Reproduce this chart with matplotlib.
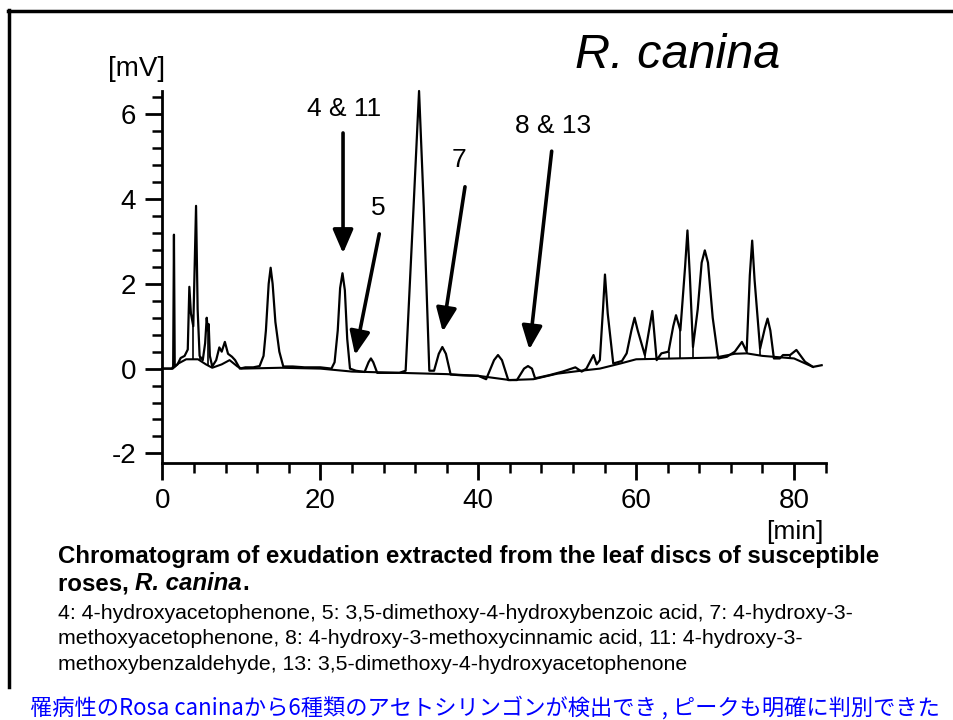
import numpy as np
import matplotlib
matplotlib.use('Agg')
import matplotlib.pyplot as plt
from matplotlib.ticker import MultipleLocator
from matplotlib.lines import Line2D

plt.rcParams['font.family'] = ['Liberation Sans', 'Noto Sans CJK JP', 'DejaVu Sans']
plt.rcParams['axes.unicode_minus'] = False

# chromatogram trace: retention time [min], signal [mV]
trace_t = [0.0, 1.2, 1.35, 1.45, 1.55, 1.9, 2.3, 2.8, 3.2, 3.4, 3.6, 3.9, 4.25, 4.45, 4.7,
           5.1, 5.4, 5.6, 5.75, 5.85, 6.0, 6.3, 6.8, 7.2, 7.5, 7.9, 8.3, 8.8, 9.2, 9.8,
           10.5, 11.5, 12.3, 12.8, 13.1, 13.45, 13.7, 13.95, 14.3, 14.8, 15.3, 16.5, 18.0, 20.0,
           21.4, 21.8, 22.2, 22.5, 22.8, 23.1, 23.4, 23.75, 24.5, 25.6, 26.1, 26.4, 26.7, 27.2,
           28.5, 30.0, 30.8, 31.8, 32.5, 33.1, 33.8, 34.4, 35.0, 35.45, 35.9, 36.5, 38.0, 40.0,
           41.0, 42.0, 42.5, 43.0, 43.8, 44.9, 45.8, 46.3, 46.8, 47.2, 49.1, 50.7, 52.3, 53.1,
           53.7, 54.6, 55.0, 55.4, 55.8, 56.05, 56.4, 57.1, 58.2, 58.8, 59.4, 59.8, 60.2, 61.1,
           62.05, 62.6, 63.2, 64.1, 64.7, 65.05, 65.6, 66.2, 66.5, 66.8, 67.2, 67.8, 68.3, 68.7,
           69.1, 69.7, 70.4, 71.5, 72.5, 73.4, 74.0, 74.4, 74.7, 75.0, 75.7, 76.3, 76.65, 77.0,
           77.45, 78.2, 78.6, 79.5, 80.3, 81.4, 82.4, 83.5]
trace_v = [0.0, 0.0, 0.05, 3.16, 0.05, 0.1, 0.25, 0.3, 0.45, 1.93, 1.3, 1.0, 3.84, 1.4, 0.3,
           0.2, 0.6, 1.2, 0.9, 1.05, 0.3, 0.05, 0.2, 0.5, 0.4, 0.63, 0.35, 0.28, 0.2, 0.0,
           0.03, 0.03, 0.06, 0.3, 0.9, 2.0, 2.38, 2.0, 1.1, 0.4, 0.05, 0.05, 0.03, 0.03,
           0.0, 0.15, 0.9, 1.9, 2.25, 1.85, 0.7, 0.0, -0.05, -0.08, 0.15, 0.24, 0.15, -0.1,
           -0.1, -0.1, -0.05, 3.8, 6.55, 3.8, -0.05, -0.05, 0.35, 0.51, 0.35, -0.14, -0.16, -0.17,
           -0.25, 0.2, 0.32, 0.2, -0.27, -0.27, 0.0, 0.06, 0.0, -0.23, -0.15, -0.07, 0.03, -0.07,
           0.0, 0.32, 0.1, 0.2, 1.4, 2.22, 1.3, 0.12, 0.18, 0.36, 0.9, 1.2, 0.9, 0.32,
           1.36, 0.2, 0.36, 0.4, 1.0, 1.26, 0.9, 2.4, 3.26, 2.2, 0.51, 1.4, 2.5, 2.79,
           2.5, 1.2, 0.24, 0.28, 0.4, 0.63, 0.4, 2.2, 3.02, 2.1, 0.47, 0.95, 1.18, 0.9,
           0.24, 0.24, 0.32, 0.32, 0.44, 0.16, 0.04, 0.08]

# integration baseline drawn under the peaks
base_t = [0.0, 1.3, 2.0, 3.0, 4.5, 5.5, 6.3, 7.5, 8.5, 9.5, 10.0, 15.0, 20.0, 24.0, 30.0,
          36.0, 40.0, 44.0, 47.0, 50.0, 53.0, 55.4, 58.0, 60.0, 65.0, 70.0, 72.5, 74.0,
          76.0, 78.0, 80.0, 82.4]
base_v = [0.0, 0.0, 0.12, 0.22, 0.22, 0.1, 0.02, 0.1, 0.2, 0.05, 0.0, 0.02, 0.0, -0.07, -0.1,
          -0.13, -0.17, -0.27, -0.25, -0.12, -0.05, 0.0, 0.12, 0.22, 0.24, 0.26, 0.35, 0.36,
          0.3, 0.27, 0.24, 0.04]

# drop lines from valleys to the baseline
drop_t = [3.9, 4.7, 5.75, 61.1, 62.6, 64.1, 65.6, 67.2, 74.0, 75.7, 79.5]

# peak labels: text, text position, arrow start, arrow tip
peak_labels = ['4 & 11', '5', '7', '8 & 13']
label_xy = [(22.95, 5.95), (27.3, 3.63), (37.56, 4.75), (49.53, 5.56)]
arrow_from = [(22.87, 5.56), (27.46, 3.18), (38.32, 4.29), (49.3, 5.13)]
arrow_to = [(22.87, 2.72), (24.39, 0.32), (35.5, 0.87), (46.47, 0.45)]

caption_bold = 'Chromatogram of exudation extracted from the leaf discs of susceptible'
caption_lines = ['4: 4-hydroxyacetophenone, 5: 3,5-dimethoxy-4-hydroxybenzoic acid, 7: 4-hydroxy-3-',
                 'methoxyacetophenone, 8: 4-hydroxy-3-methoxycinnamic acid, 11: 4-hydroxy-3-',
                 'methoxybenzaldehyde, 13: 3,5-dimethoxy-4-hydroxyacetophenone']
note_jp = '罹病性のRosa caninaから6種類のアセトシリンゴンが検出でき , ピークも明確に判別できた'

W, H = 954.0, 720.0


def fx(x):
	return x / W


def fy(y):
	return 1 - y / H


def main():
	fig = plt.figure(figsize=(W / 100, H / 100), dpi=100)
	fig.patch.set_facecolor('white')

	# frame round the slide
	fig.add_artist(Line2D([fx(8), fx(954)], [fy(11), fy(11)], transform=fig.transFigure, lw=2.5, color='k'))
	fig.add_artist(Line2D([fx(9.5), fx(9.5)], [fy(10), fy(687)], transform=fig.transFigure, lw=2.5, color='k'))

	ax = fig.add_axes([fx(162.5), fy(462.7), (825.6 - 162.5) / W, (462.7 - 91) / H])
	ax.set_xlim(0, 84)
	ax.set_ylim(-2.22, 6.55)

	ax.plot(base_t, base_v, color='k', lw=1.5, clip_on=False)
	ax.plot(trace_t, trace_v, color='k', lw=1.6, clip_on=False)
	ax.vlines(drop_t, np.interp(drop_t, base_t, base_v), np.interp(drop_t, trace_t, trace_v),
	          color='k', lw=1.2)

	for txt, (lx, ly), a, b in zip(peak_labels, label_xy, arrow_from, arrow_to):
		ax.text(lx, ly, txt, fontsize=19, ha='center', va='baseline')
		ax.annotate('', xy=b, xytext=a,
		            arrowprops=dict(arrowstyle='-|>,head_length=0.65,head_width=0.28',
		                            lw=2.6, color='k', mutation_scale=22, shrinkA=0, shrinkB=0))

	for s in ['top', 'right']:
		ax.spines[s].set_visible(False)
	for s in ['left', 'bottom']:
		ax.spines[s].set_linewidth(2)

	ax.xaxis.set_major_locator(MultipleLocator(20))
	ax.xaxis.set_minor_locator(MultipleLocator(4))
	ax.yaxis.set_major_locator(MultipleLocator(2))
	ax.yaxis.set_minor_locator(MultipleLocator(0.4))
	ax.tick_params(which='major', length=12, width=2, labelsize=20, direction='out')
	ax.tick_params(which='minor', length=7, width=1.8, direction='out')
	ax.tick_params(axis='x', which='major', pad=6)
	ax.tick_params(axis='y', which='major', pad=7)

	fig.text(fx(678), fy(68), 'R. canina', fontsize=35, style='italic', ha='center', va='baseline')
	fig.text(fx(137), fy(76), '[mV]', fontsize=20, ha='center', va='baseline')
	fig.text(fx(795), fy(539), '[min]', fontsize=19, ha='center', va='baseline')

	fig.text(fx(58), fy(563), caption_bold, fontsize=17.3, weight='bold', ha='left', va='baseline')
	t1 = fig.text(fx(58), fy(590), 'roses, ', fontsize=17.3, weight='bold', ha='left', va='baseline')
	fig.canvas.draw()
	bb = t1.get_window_extent()
	t2 = fig.text(bb.x1 / W, fy(590), 'R. canina', fontsize=17.3, weight='bold', style='italic',
	              ha='left', va='baseline')
	bb2 = t2.get_window_extent()
	fig.text(bb2.x1 / W, fy(590), '.', fontsize=17.3, weight='bold', ha='left', va='baseline')

	for i, line in enumerate(caption_lines):
		fig.text(fx(58), fy(619 + 25.5 * i), line, fontsize=15.3, ha='left', va='baseline')

	fig.text(fx(30), fy(715), note_jp, fontsize=16, color='#0000ff', ha='left', va='baseline',
	         family=['Noto Sans CJK JP', 'DejaVu Sans'])

	fig.savefig('out.png', dpi=100, facecolor='white')


if __name__ == '__main__':
	main()
